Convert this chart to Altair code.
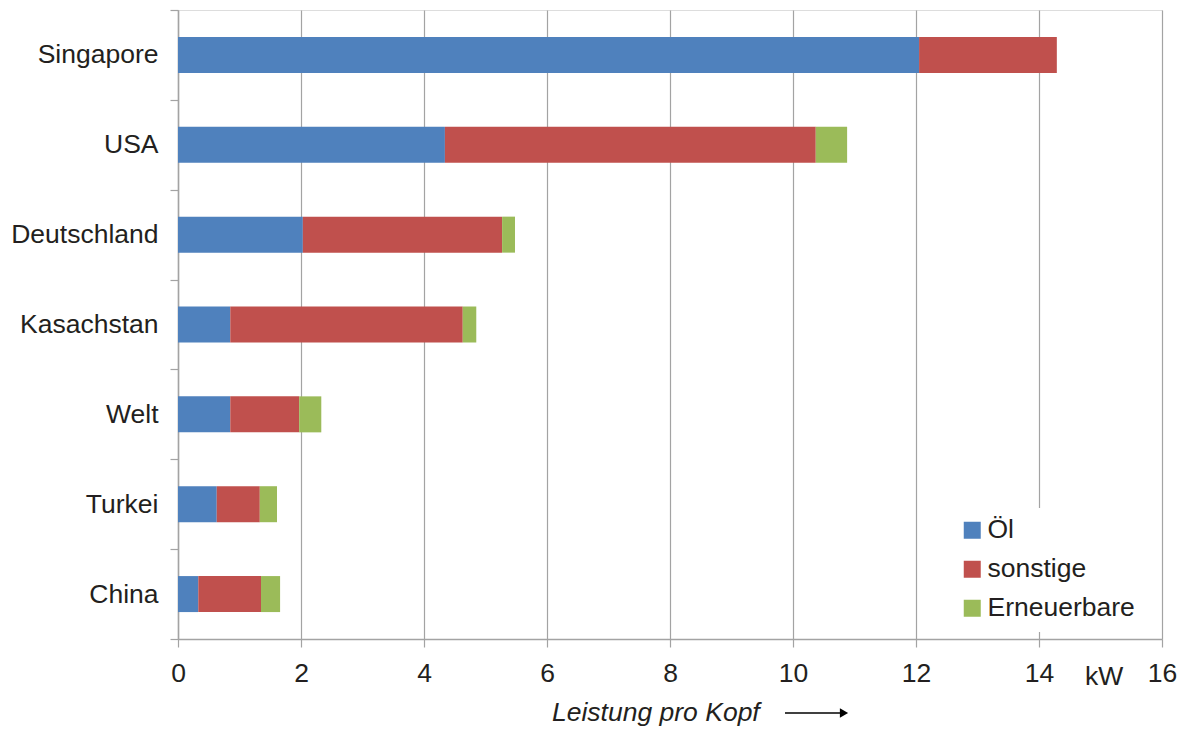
import altair as alt
import pandas as pd

# Per-capita power by country, split into energy sources (kW)
laender = ["Singapore", "USA", "Deutschland", "Kasachstan", "Welt", "Turkei", "China"]
oel = [12.05, 4.34, 2.03, 0.85, 0.85, 0.63, 0.33]
sonstige = [2.24, 6.03, 3.24, 3.78, 1.12, 0.70, 1.02]
erneuerbare = [0.00, 0.51, 0.21, 0.22, 0.36, 0.28, 0.31]

quellen = ["Öl", "sonstige", "Erneuerbare"]
farben = ["#4F81BD", "#C0504D", "#9BBB59"]
x_ticks = [0, 2, 4, 6, 8, 10, 12, 14, 16]

rows = []
for i, land in enumerate(laender):
    for k, (quelle, werte) in enumerate(zip(quellen, [oel, sonstige, erneuerbare])):
        rows.append({"Land": land, "Quelle": quelle, "Wert": werte[i], "Reihe": k})
df = pd.DataFrame(rows)

FONT = "Liberation Sans"
TXT = "#231F20"
GRID = "#A3A3A3"
FS = 26.5

W, H = 984, 629

bars = alt.Chart(df).mark_bar(size=36).encode(
    x=alt.X(
        "Wert:Q",
        stack="zero",
        scale=alt.Scale(domain=[0, 16], nice=False, zero=True),
        axis=alt.Axis(
            values=x_ticks, title=None, grid=True, gridColor=GRID, gridWidth=1.2,
            domainColor=GRID, domainWidth=1.5, tickColor=GRID, tickSize=8, tickWidth=1.2,
            labelFont=FONT, labelFontSize=FS, labelColor=TXT, labelPadding=13,
            labelFlush=False,
        ),
    ),
    y=alt.Y(
        "Land:N",
        sort=laender,
        scale=alt.Scale(paddingInner=0, paddingOuter=0),
        axis=alt.Axis(
            title=None, tickBand="extent", grid=False,
            domainColor=GRID, domainWidth=1.5, tickColor=GRID, tickSize=8, tickWidth=1.2,
            labelFont=FONT, labelFontSize=FS, labelColor=TXT, labelPadding=12,
        ),
    ),
    color=alt.Color(
        "Quelle:N",
        sort=quellen,
        scale=alt.Scale(domain=quellen, range=farben),
        legend=alt.Legend(
            title=None, orient="none", legendX=772, legendY=498,
            symbolType="square", symbolSize=289, symbolStrokeWidth=0, symbolOpacity=1,
            labelFont=FONT, labelFontSize=FS, labelColor=TXT, labelOffset=2,
            rowPadding=12, padding=9, fillColor="white", strokeColor="white",
        ),
    ),
    order=alt.Order("Reihe:Q"),
)

# Unit label next to the last tick
einheit = alt.Chart(pd.DataFrame({"t": ["kW"]})).mark_text(
    font=FONT, fontSize=FS, color=TXT, align="center", baseline="middle"
).encode(text="t:N", x=alt.value(926), y=alt.value(H + 38))

# Axis caption with arrow
titel = alt.Chart(pd.DataFrame({"t": ["Leistung pro Kopf"]})).mark_text(
    font=FONT, fontSize=FS, fontStyle="italic", color=TXT, align="left", baseline="middle"
).encode(text="t:N", x=alt.value(374), y=alt.value(H + 74))

pfeil_linie = alt.Chart(pd.DataFrame({"a": [0]})).mark_rule(color="#000000", strokeWidth=1.6).encode(
    x=alt.value(607), x2=alt.value(662), y=alt.value(H + 74)
)
pfeil_spitze = alt.Chart(pd.DataFrame({"a": [0]})).mark_point(
    shape="triangle-right", filled=True, color="#000000", size=90, opacity=1
).encode(x=alt.value(666), y=alt.value(H + 74))

chart = alt.layer(bars, einheit, titel, pfeil_linie, pfeil_spitze).properties(
    width=W, height=H,
    autosize=alt.AutoSizeParams(type="none"),
    padding={"left": 178, "top": 10, "right": 24, "bottom": 92},
).configure_view(stroke=None).configure(background="white")

chart.save("out.html", embed_options={"renderer": "svg", "actions": False})
